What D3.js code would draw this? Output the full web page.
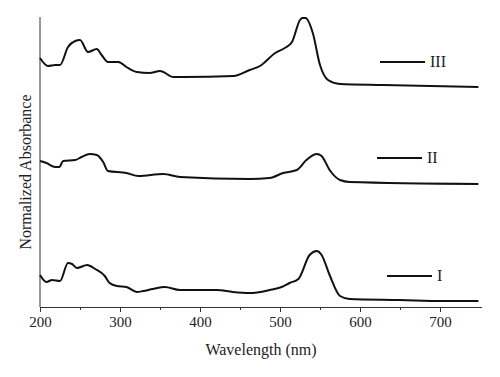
<!DOCTYPE html>
<html>
<head>
<meta charset="utf-8">
<script src="https://cdn.jsdelivr.net/npm/d3@7"></script>
<style>
  body { margin: 0; background: #fff; }
  svg text { font-family: "Liberation Serif", "DejaVu Serif", serif; fill: #222; }
</style>
</head>
<body>
<div id="vis"></div>
<script>
const svgWidth = 500;
const svgHeight = 377;

// wavelength (nm) / normalized absorbance (stacked, offset)
const wavelengthI = [200, 208, 215, 225, 235, 240, 246, 259, 269, 281, 287, 296, 308, 321, 329, 341, 356, 375, 400, 421, 441, 462, 487, 502, 512, 523, 537, 546, 552, 562, 575, 587, 650, 704, 748];
const absorbanceI = [0.32, 0.25, 0.27, 0.26, 0.44, 0.43, 0.39, 0.42, 0.38, 0.31, 0.24, 0.21, 0.20, 0.15, 0.16, 0.18, 0.20, 0.17, 0.17, 0.17, 0.15, 0.14, 0.17, 0.20, 0.24, 0.28, 0.52, 0.56, 0.52, 0.32, 0.11, 0.08, 0.07, 0.06, 0.06];

const wavelengthII = [200, 208, 219, 224, 229, 244, 252, 262, 271, 279, 285, 308, 323, 354, 375, 462, 487, 504, 521, 533, 546, 552, 562, 575, 587, 748];
const absorbanceII = [1.46, 1.44, 1.40, 1.40, 1.46, 1.47, 1.50, 1.53, 1.52, 1.45, 1.36, 1.34, 1.31, 1.33, 1.30, 1.28, 1.29, 1.34, 1.37, 1.47, 1.53, 1.51, 1.37, 1.27, 1.25, 1.23];

const wavelengthIII = [200, 210, 219, 225, 235, 244, 250, 260, 271, 277, 285, 298, 308, 321, 337, 350, 367, 379, 442, 462, 475, 494, 506, 515, 525, 528, 532, 541, 550, 560, 575, 629, 748];
const absorbanceIII = [2.49, 2.41, 2.42, 2.42, 2.60, 2.66, 2.67, 2.55, 2.58, 2.52, 2.45, 2.45, 2.40, 2.35, 2.34, 2.36, 2.30, 2.30, 2.31, 2.37, 2.41, 2.54, 2.59, 2.65, 2.87, 2.89, 2.89, 2.74, 2.42, 2.27, 2.23, 2.22, 2.20];

const seriesNames = ['III', 'II', 'I'];
const xTicks = [200, 300, 400, 500, 600, 700];
const xMinorTicks = [250, 350, 450, 550, 650];

const series = [
  { name: 'III', x: wavelengthIII, y: absorbanceIII },
  { name: 'II', x: wavelengthII, y: absorbanceII },
  { name: 'I', x: wavelengthI, y: absorbanceI },
];

// legend placement (pixels)
const legendPos = { III: [380, 62], II: [377, 158], I: [387, 276] };

const svg = d3.select('#vis').append('svg').attr('width', svgWidth).attr('height', svgHeight);
svg.append('rect').attr('width', svgWidth).attr('height', svgHeight).attr('fill', '#fff');

const x = d3.scaleLinear().domain([200, 750]).range([40, 480]);
const y = d3.scaleLinear().domain([0, 2.9]).range([307, 17]);

// axes
svg.append('line').attr('x1', 40).attr('x2', 40).attr('y1', 17).attr('y2', 307)
  .attr('stroke', '#333').attr('stroke-width', 1);

const xAxis = d3.axisBottom(x).tickValues(xTicks).tickSize(5).tickPadding(4).tickFormat(d3.format('d'));
const gx = svg.append('g').attr('transform', 'translate(0,307)').call(xAxis);
gx.select('.domain').attr('d', 'M40,0.5H482').attr('stroke', '#333');
gx.selectAll('.tick line').attr('stroke', '#333');
gx.selectAll('.tick text').attr('font-size', 15).attr('font-family', '"Liberation Serif", serif').attr('fill', '#222');

svg.append('g').attr('transform', 'translate(0,307)')
  .selectAll('line').data(xMinorTicks).join('line')
  .attr('x1', (d) => x(d) + 0.5).attr('x2', (d) => x(d) + 0.5)
  .attr('y1', 0).attr('y2', 3).attr('stroke', '#333');

// titles
svg.append('text').attr('x', 261).attr('y', 355).attr('text-anchor', 'middle')
  .attr('font-size', 16).text('Wavelength (nm)');
svg.append('text').attr('transform', 'translate(31,172) rotate(-90)').attr('text-anchor', 'middle')
  .attr('font-size', 16).text('Normalized Absorbance');

// spectra
const line = d3.line()
  .x((d) => x(d[0]))
  .y((d) => y(d[1]))
  .curve(d3.curveMonotoneX);

series.forEach((s) => {
  const pts = s.x.map((w, i) => [w, s.y[i]]);
  svg.append('path').datum(pts)
    .attr('fill', 'none').attr('stroke', '#111').attr('stroke-width', 2)
    .attr('stroke-linejoin', 'round')
    .attr('d', line);
});

// legend
seriesNames.forEach((n) => {
  const [lx, ly] = legendPos[n];
  svg.append('line').attr('x1', lx).attr('x2', lx + 45).attr('y1', ly).attr('y2', ly)
    .attr('stroke', '#111').attr('stroke-width', 2);
  svg.append('text').attr('x', lx + 50).attr('y', ly + 5).attr('font-size', 16).text(n);
});
</script>
</body>
</html>
